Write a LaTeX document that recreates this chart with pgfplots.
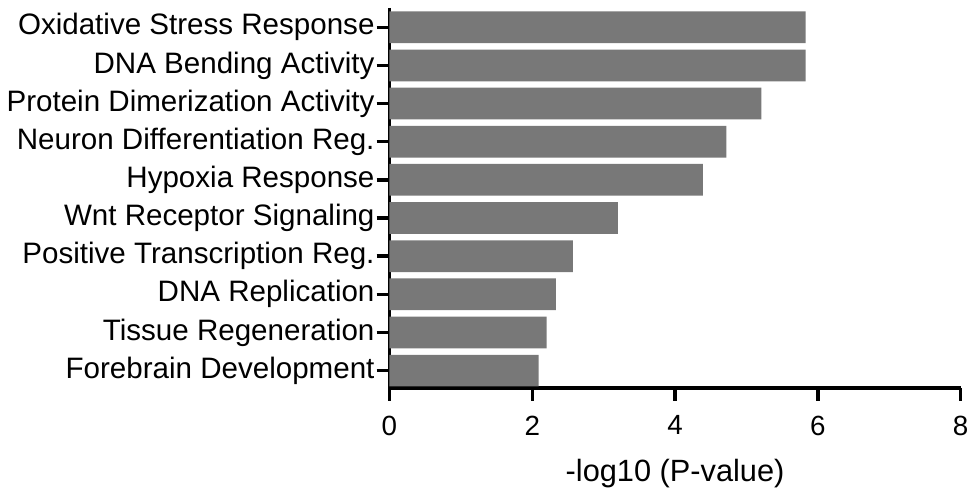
\documentclass[border=0pt]{standalone}
\usepackage{pgfplots}
\pgfplotsset{compat=1.18}
\usepackage{fontspec}
\setmainfont{Liberation Sans}
\definecolor{bargray}{RGB}{120,120,120}
\begin{document}
\begin{tikzpicture}
\begin{axis}[
  scale only axis,
  width=288pt, height=191.5pt,
  xbar, bar width=16pt,
  xmin=0, xmax=8,
  ymin=0.494, ymax=10.45,
  y dir=reverse,
  axis x line*=bottom, axis y line*=left,
  axis line style={line width=1.75pt, -},
  xtick={0,2,4,6,8},
  ytick={1,...,10},
  yticklabels={Oxidative Stress Response,DNA Bending Activity,Protein Dimerization Activity,Neuron Differentiation Reg.,Hypoxia Response,Wnt Receptor Signaling,Positive Transcription Reg.,DNA Replication,Tissue Regeneration,Forebrain Development},
  tick style={line width=1.75pt, black},
  major tick length=6.5pt,
  xtick align=outside, ytick align=outside,
  yticklabel style={font=\fontsize{14.9pt}{16pt}\selectfont, xshift=2.5pt},
  xticklabel style={font=\fontsize{14pt}{16pt}\selectfont, yshift=-4pt},
  /pgf/number format/assume math mode=true,
  xlabel={-log10 (P-value)},
  xlabel style={font=\fontsize{15.5pt}{17pt}\selectfont, yshift=-5pt},
  clip=false,
]
\addplot[fill=bargray, draw=none] coordinates {
  (5.83,1) (5.83,2) (5.21,3) (4.72,4) (4.39,5)
  (3.20,6) (2.57,7) (2.33,8) (2.20,9) (2.09,10)
};
\path (rel axis cs:-0.6736,-0.2663) rectangle (rel axis cs:1.0191,1.0209);
\end{axis}
\end{tikzpicture}
\end{document}
